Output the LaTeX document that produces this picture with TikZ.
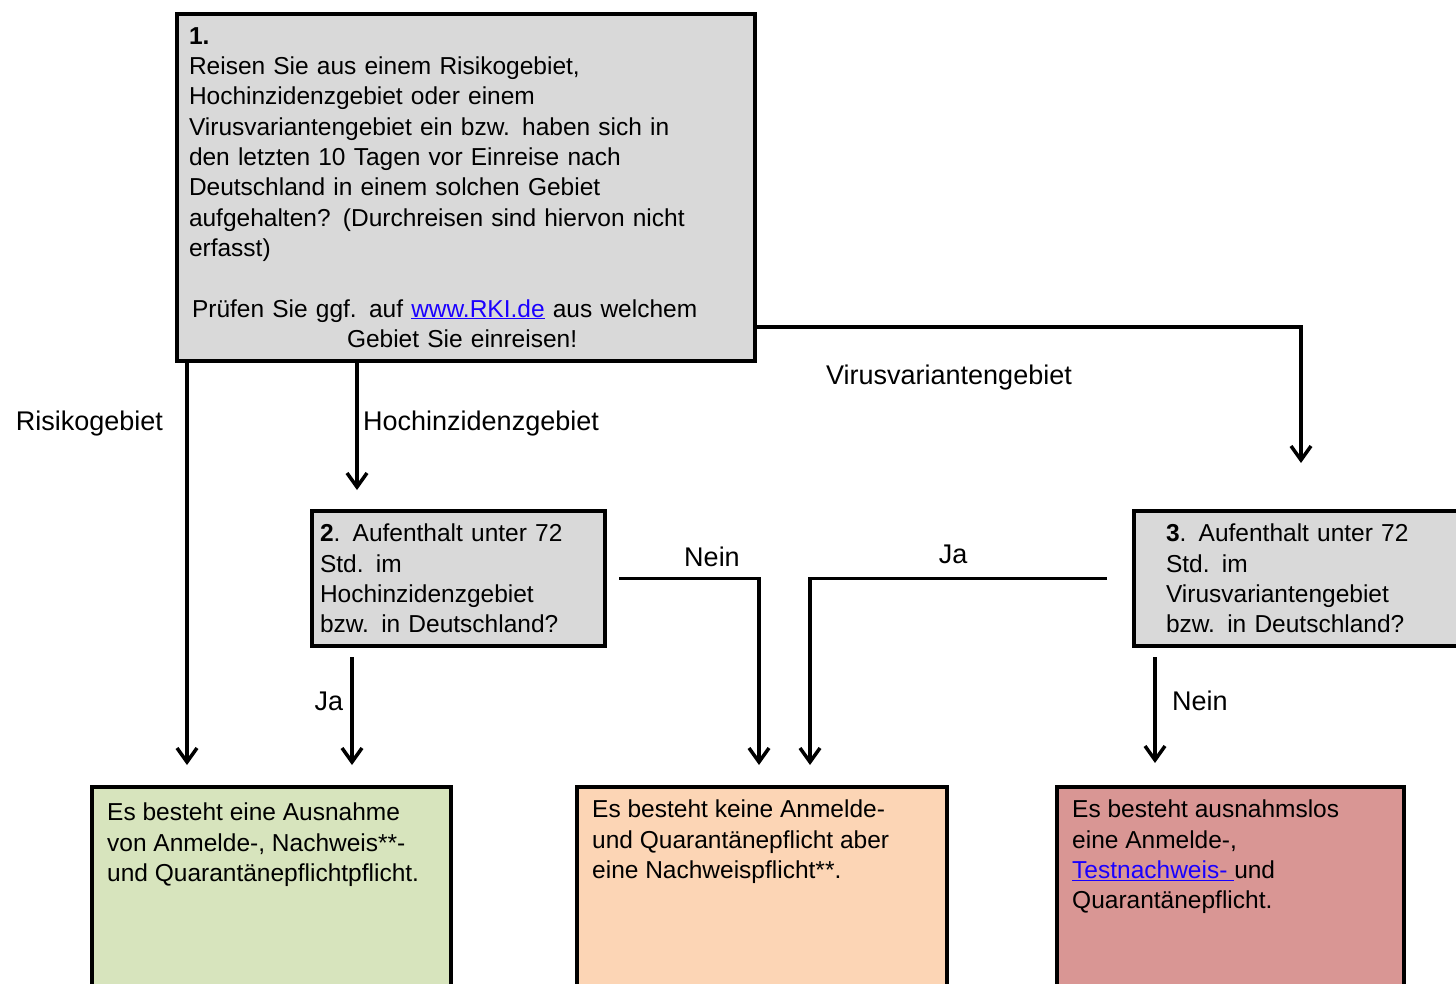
\documentclass[tikz,border=0pt]{standalone}
\usepackage{fontspec}
\setmainfont{Liberation Sans}
\usetikzlibrary{arrows.meta,positioning}
\definecolor{grau}{HTML}{D9D9D9}
\definecolor{gruen}{HTML}{D7E4BD}
\definecolor{orange}{HTML}{FCD5B5}
\definecolor{rot}{HTML}{D99694}
\definecolor{linkblau}{HTML}{1A00FF}

\begin{document}
\begin{tikzpicture}[x=1pt,y=-1pt]
        \useasboundingbox (0,0) rectangle (1456,983);
        \tikzstyle{every node} = [rectangle, inner sep=0pt]
        \tikzstyle{frage} = [draw, line width=4pt, fill=grau, anchor=north west, align=left, font=\fontsize{24.5}{30.3}\selectfont]
        \tikzstyle{ergebnis} = [draw, line width=4pt, anchor=north west, minimum height=212pt]
        \tikzstyle{etext} = [align=left, font=\fontsize{24.5}{30.3}\selectfont]
        \tikzstyle{lbl} = [font=\fontsize{27}{32}\selectfont]
        \tikzstyle{pfeil} = [line width=3.5pt, -{Straight Barb[length=14pt,width=20pt]}]
        % Fragen
        \node[frage, text width=554pt, inner xsep=12pt, minimum height=347pt] (f1) at (175,12) {\textbf{1.}\\
            Reisen Sie aus einem Risikogebiet,\\
            Hochinzidenzgebiet oder einem\\
            Virusvariantengebiet ein bzw. haben sich in\\
            den letzten 10 Tagen vor Einreise nach\\
            Deutschland in einem solchen Gebiet\\
            aufgehalten? (Durchreisen sind hiervon nicht\\
            erfasst)\\[30.3pt]
            \hspace*{3pt}Prüfen Sie ggf. auf {\color{linkblau}\underline{www.RKI.de}} aus welchem\\
            \hspace*{158pt}Gebiet Sie einreisen!};
        \node[frage, text width=277pt, inner xsep=8pt, minimum height=135pt] (f2) at (310,509) {\textbf{2}. Aufenthalt unter 72\\ Std. im\\ Hochinzidenzgebiet\\ bzw. in Deutschland?};
        \node[frage, text width=264pt, inner xsep=32pt, minimum height=135pt] (f3) at (1132,509) {\textbf{3}. Aufenthalt unter 72\\ Std. im\\ Virusvariantengebiet\\ bzw. in Deutschland?};
        % Ergebnisse
        \node[ergebnis, fill=gruen, minimum width=359pt] (e1) at (90,785) {};
        \node[ergebnis, fill=orange, minimum width=370pt] (e2) at (575,785) {};
        \node[ergebnis, fill=rot, minimum width=347pt] (e3) at (1055,785) {};
        \node[etext, below right=18pt and 17pt of e1.north west] (t1) {Es besteht eine Ausnahme\\ von Anmelde-, Nachweis**-\\ und Quarantänepflichtpflicht.};
        \node[etext, below right=15pt and 17pt of e2.north west] (t2) {Es besteht keine Anmelde-\\ und Quarantänepflicht aber\\ eine Nachweispflicht**.};
        \node[etext, below right=15pt and 17pt of e3.north west] (t3) {Es besteht ausnahmslos\\ eine Anmelde-,\\ {\color{linkblau}\underline{Testnachweis-\ }}und\\ Quarantänepflicht.};
        % Beschriftungen
        \node[lbl, anchor=base] (l1) at (89.5,430) {Risikogebiet};
        \node[lbl, anchor=base west] (l2) at (363,430) {Hochinzidenzgebiet};
        \node[lbl, anchor=base] (l3) at (949,384) {Virusvariantengebiet};
        \node[lbl, anchor=base] (l4) at (329,710) {Ja};
        \node[lbl, anchor=base] (l5) at (712,566) {Nein};
        \node[lbl, anchor=base] (l6) at (953,563) {Ja};
        \node[lbl, anchor=base west] (l7) at (1172,710) {Nein};
        % Pfeile
        \draw[pfeil, shorten >=20pt] ([xshift=12pt]f1.south west) -- ([xshift=97pt]e1.north west);
        \draw[pfeil, shorten >=19pt] ([xshift=182pt]f1.south west) -- ([xshift=47pt]f2.north west);
        \draw[pfeil, shorten >=46pt] ([yshift=36pt]f1.south east) -| ([xshift=169pt]f3.north west);
        \draw[pfeil, shorten >=20pt] ([xshift=42pt,yshift=-9pt]f2.south west) -- ([xshift=262pt]e1.north west);
        \draw[pfeil, shorten >=20pt] ([xshift=12pt]f2.east) -| ([xshift=184pt]e2.north west);
        \draw[pfeil, shorten >=20pt] ([xshift=-25pt]f3.west) -| ([xshift=235pt]e2.north west);
        \draw[pfeil, shorten >=22pt] ([xshift=23pt,yshift=-9pt]f3.south west) -- ([xshift=100pt]e3.north west);
\end{tikzpicture}
\end{document}
